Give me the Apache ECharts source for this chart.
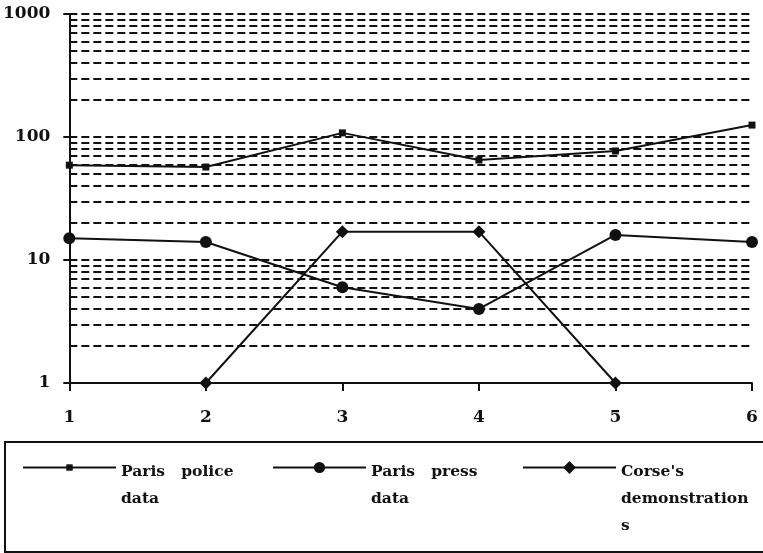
<!DOCTYPE html>
<html>
<head>
<meta charset="utf-8">
<script src="https://cdn.jsdelivr.net/npm/echarts@6/dist/echarts.min.js"></script>
<style>
html,body{margin:0;padding:0;background:#fff;}
#chart{width:763px;height:553px;}
</style>
</head>
<body>
<div id="chart"></div>
<script>
// ---- data ----
var categories = ['1', '2', '3', '4', '5', '6'];
var parisPolice = [59, 57, 108, 65, 77, 125];
var parisPress = [15, 14, 6, 4, 16, 14];
var corse = [null, 1, 17, 17, 1, null];
var gridValues = [2,3,4,5,6,7,8,9,10,20,30,40,50,60,70,80,90,100,200,300,400,500,600,700,800,900,1000];
var seriesNames = ['Paris police data', 'Paris press data', "Corse's demonstrations"];
var legendTexts = ['Paris   police\ndata\n', 'Paris   press\ndata\n', "Corse's\ndemonstration\ns"];

var ink = '#111';
var serifFont = "'DejaVu Serif', 'Liberation Serif', serif";

var chart = echarts.init(document.getElementById('chart'), null, {renderer: 'canvas'});

var legendLefts = [22, 272, 522];
var legendIconHeights = [8, 14, 16];
var legends = seriesNames.map(function (n, i) {
  return {
    data: [n],
    left: legendLefts[i],
    top: 396,
    itemWidth: 93,
    itemHeight: legendIconHeights[i],
    padding: 0,
    selectedMode: false,
    formatter: function () { return '{g| }\n \n' + legendTexts[i]; },
    textStyle: {
      fontFamily: serifFont, fontWeight: 'bold', fontSize: 15.5, lineHeight: 27, color: ink,
      rich: {g: {lineHeight: 35, fontSize: 15.5, fontFamily: serifFont}}
    }
  };
});

var option = {
  animation: false,
  backgroundColor: '#fff',
  grid: {left: 69, right: 11, top: 14, bottom: 170, containLabel: false},
  legend: legends,
  graphic: [{
    type: 'rect', z: -1,
    shape: {x: 5, y: 442, width: 800, height: 110},
    style: {fill: 'none', stroke: ink, lineWidth: 2}
  }],
  xAxis: {
    type: 'category',
    data: categories,
    boundaryGap: false,
    axisLine: {lineStyle: {color: ink, width: 2}},
    axisTick: {show: true, length: 8, lineStyle: {color: ink, width: 2}},
    axisLabel: {color: ink, fontFamily: serifFont, fontWeight: 'bold', fontSize: 17, margin: 26},
    splitLine: {show: false}
  },
  yAxis: {
    type: 'log',
    logBase: 10,
    min: 1,
    max: 1000,
    axisLine: {show: true, lineStyle: {color: ink, width: 2}},
    axisTick: {show: true, length: 6, lineStyle: {color: ink, width: 2}},
    axisLabel: {color: ink, fontFamily: serifFont, fontWeight: 'bold', fontSize: 17, margin: 19,
      formatter: function (v) { return String(Math.round(v)); }},
    splitLine: {show: false}
  },
  series: [
    {
      name: seriesNames[0], type: 'line', data: parisPolice,
      symbol: 'rect', symbolSize: 7,
      lineStyle: {color: ink, width: 2}, itemStyle: {color: ink},
      markLine: {
        silent: true, symbol: 'none', label: {show: false},
        lineStyle: {color: ink, type: [8, 4], width: 2},
        data: gridValues.map(function (v) { return {yAxis: v}; })
      }
    },
    {
      name: seriesNames[1], type: 'line', data: parisPress,
      symbol: 'circle', symbolSize: 12,
      lineStyle: {color: ink, width: 2}, itemStyle: {color: ink}
    },
    {
      name: seriesNames[2], type: 'line', data: corse,
      symbol: 'diamond', symbolSize: 13,
      lineStyle: {color: ink, width: 2}, itemStyle: {color: ink}
    }
  ]
};
chart.setOption(option);
</script>
</body>
</html>
